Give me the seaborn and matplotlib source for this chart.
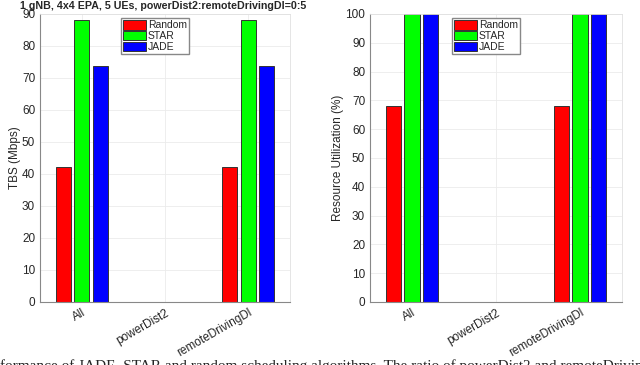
import pandas as pd
import numpy as np
from matplotlib import pyplot as plt
import seaborn as sns

# data
categories = ['All', 'powerDist2', 'remoteDrivingDl']
schemes = ['Random', 'STAR', 'JADE']
tbs_random = [42.1, 0, 42.1]
tbs_star = [88.2, 0, 88.2]
tbs_jade = [73.7, 0, 73.7]
ru_random = [68.1, 0, 68.1]
ru_star = [100, 0, 100]
ru_jade = [100, 0, 100]
colors = ['#ff0000', '#00ff00', '#0000ff']


def make_df(r, s, j):
    rows = []
    for vals, name in zip([r, s, j], schemes):
        for c, v in zip(categories, vals):
            rows.append({'cat': c, 'scheme': name, 'val': v})
    return pd.DataFrame(rows)


df_tbs = make_df(tbs_random, tbs_star, tbs_jade)
df_ru = make_df(ru_random, ru_star, ru_jade)

sns.set_style('white')
plt.rcParams['font.family'] = ['Liberation Sans', 'DejaVu Sans']

fig = plt.figure(figsize=(6.4, 3.65), dpi=100)
ax1 = fig.add_axes([40/640, 1-302/365, 250/640, 288/365])
ax2 = fig.add_axes([370/640, 1-302/365, 252/640, 288/365])


def draw(ax, df, ymax, ylabel, label_x):
    sns.barplot(data=df, x='cat', y='val', hue='scheme', palette=colors,
                saturation=1, width=0.667, gap=0.19, edgecolor='#333333',
                linewidth=0.7, errorbar=None, ax=ax)
    ax.set_ylim(0, ymax)
    ax.set_xlim(-0.5, 2.5)
    ax.set_yticks(np.arange(0, ymax + 1, 10))
    ax.set_xlabel('')
    ax.set_ylabel(ylabel, fontsize=8.5, color='#262626')
    ax.yaxis.set_label_coords(label_x, 0.5)
    ax.set_xticks(range(3))
    ax.set_xticklabels(categories, rotation=30, ha='right', rotation_mode='anchor')
    ax.tick_params(axis='both', labelsize=8.5, labelcolor='#262626', length=2,
                   color='#555555', direction='in')
    ax.grid(True, color='#ebebeb', linewidth=0.6)
    ax.set_axisbelow(True)
    for s in ['top', 'right']:
        ax.spines[s].set_color('#e0e0e0')
        ax.spines[s].set_linewidth(0.6)
    for s in ['left', 'bottom']:
        ax.spines[s].set_color('#888888')
        ax.spines[s].set_linewidth(0.8)
    ax.legend(title=None, fontsize=7.5, loc='upper center',
              bbox_to_anchor=(0.46, 1.0), frameon=True, fancybox=False,
              edgecolor='#888888', framealpha=1, borderpad=0.2,
              handlelength=2.2, handleheight=1.0, handletextpad=0.15,
              labelspacing=0.05, borderaxespad=0.4)


draw(ax1, df_tbs, 90, 'TBS (Mbps)', -0.075)
draw(ax2, df_ru, 100, 'Resource Utilization (%)', -0.105)
fig.text(163/640, 1-6/365, '1 gNB, 4x4 EPA, 5 UEs, powerDist2:remoteDrivingDl=0:5',
         fontsize=7.7, fontweight='bold', ha='center', va='center')

fig.text(0.0, -0.003, 'formance of JADE, STAR and random scheduling algorithms. The ratio of powerDist2 and remoteDriving',
         fontsize=11, family='Liberation Serif', ha='left', va='center')

fig.savefig('out.png', dpi=100)
